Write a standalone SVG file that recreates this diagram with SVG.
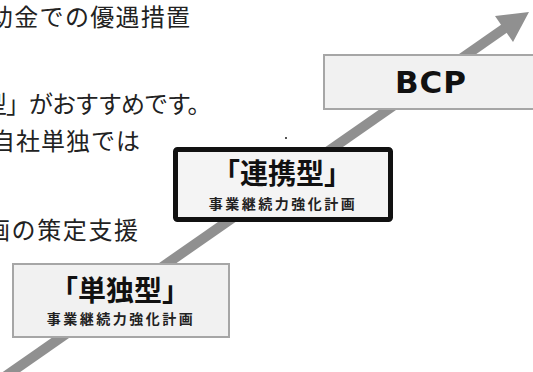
<svg xmlns="http://www.w3.org/2000/svg" width="533" height="372" viewBox="0 0 533 372">
<style>
.body{font-family:"Noto Sans CJK JP","Liberation Sans",sans-serif;font-size:24px;fill:#222;}
.box{fill:#f1f1f1;stroke:#a6a6a6;stroke-width:2;}
.boxk{fill:#f4f4f4;stroke:#111;stroke-width:5;}
.big{font-family:"Noto Sans CJK JP","Liberation Sans",sans-serif;font-size:28px;font-weight:700;fill:#111;text-anchor:middle;}
.small{font-family:"Noto Sans CJK JP","Liberation Sans",sans-serif;font-size:14px;font-weight:700;fill:#222;text-anchor:middle;letter-spacing:2.5px;}
.bcp{font-family:"DejaVu Sans","Liberation Sans",sans-serif;font-size:31px;font-weight:700;fill:#111;text-anchor:middle;letter-spacing:1px;}
</style>
<rect width="533" height="372" fill="#ffffff"/>
<g id="text">
<text class="body" x="-11" y="26" letter-spacing="1.3">助金での優遇措置</text>
<text class="body" x="-17" y="113" letter-spacing="-1">型」がおすすめです。</text>
<text class="body" x="-9" y="150" letter-spacing="1">自社単独では</text>
<text class="body" x="-14" y="239" letter-spacing="1.6">画の策定支援</text>
</g>
<g id="connectors">
<line x1="0" y1="380" x2="505" y2="28" stroke="#909090" stroke-width="10"/>
<polygon points="529,12 513,42 495,16" fill="#909090"/>
</g>
<g id="node-bcp">
<rect class="box" x="324" y="55" width="215" height="54"/>
<text class="bcp" x="431" y="93">BCP</text>
</g>
<g id="node-renkei">
<rect class="boxk" x="175.5" y="149.5" width="215" height="70" rx="2"/>
<text class="big" x="282" y="184">「連携型」</text>
<text class="small" x="283" y="209">事業継続力強化計画</text>
</g>
<g id="node-tandoku">
<rect class="box" x="13" y="264" width="216" height="73"/>
<text class="big" x="120" y="301">「単独型」</text>
<text class="small" x="121" y="324">事業継続力強化計画</text>
</g>
<rect x="285" y="137" width="2" height="2" fill="#555"/>
</svg>
